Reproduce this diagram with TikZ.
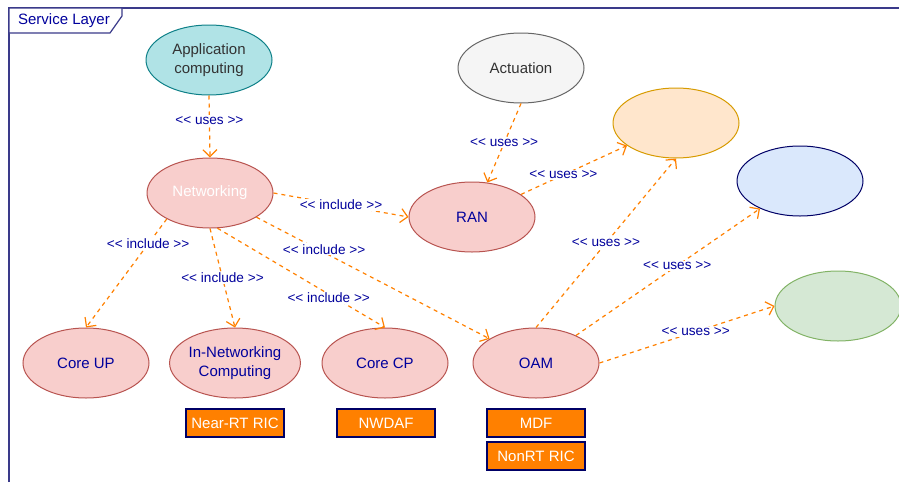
\documentclass[tikz,border=0pt]{standalone}
\usepackage{fontspec}
\setmainfont{Liberation Sans}
\usetikzlibrary{shapes.geometric,arrows.meta}
\definecolor{appfill}{HTML}{B0E3E6}\definecolor{appdraw}{HTML}{0E8088}
\definecolor{actfill}{HTML}{F5F5F5}\definecolor{actdraw}{HTML}{666666}
\definecolor{pinkfill}{HTML}{F8CECC}\definecolor{pinkdraw}{HTML}{B85450}
\definecolor{orfill}{HTML}{FFE6CC}\definecolor{ordraw}{HTML}{D79B00}
\definecolor{blfill}{HTML}{DAE8FC}\definecolor{bldraw}{HTML}{000066}
\definecolor{grfill}{HTML}{D5E8D4}\definecolor{grdraw}{HTML}{82B366}
\definecolor{edgeor}{HTML}{FF8000}
\definecolor{navytext}{HTML}{00009C}
\definecolor{framec}{HTML}{3A3A8A}
\definecolor{greytext}{HTML}{333333}
\newcommand\myll{<\kern0pt<}
\newcommand\mygg{>\kern0pt>}
\tikzset{
  uc/.style={ellipse, minimum width=126pt, minimum height=70pt, inner sep=0pt, line width=1pt, align=center, font=\fontsize{15}{19.5}\selectfont},
  pinkuc/.style={uc, fill=pinkfill, draw=pinkdraw, text=navytext},
  tagbox/.style={rectangle, minimum width=98pt, minimum height=28pt, inner sep=0pt, fill=edgeor, draw=bldraw, line width=1.2pt, text=white, font=\fontsize{15}{17}\selectfont},
  rel/.style={draw=edgeor, line width=1.2pt, dash pattern=on 4pt off 4pt, -{Straight Barb[length=7pt,width=14pt,line width=1.2pt]}},
  lbl/.style={fill=white, inner sep=1pt, text=navytext, font=\fontsize{13.6}{15}\selectfont}
}
\begin{document}
\begin{tikzpicture}[x=1pt,y=-1pt]
\useasboundingbox (0,0) rectangle (899,482);
% frame
\draw[framec, line width=1.5pt] (9,482) -- (9,8) -- (899,8);
\draw[framec, line width=1.2pt, fill=white] (9,8) -- (122,8) -- (122,16) -- (110,33) -- (9,33) -- cycle;
\node[text=navytext, font=\fontsize{15}{17}\selectfont, anchor=center] (title) at (64,20.5) {Service Layer};
% use cases
\node[uc, fill=appfill, draw=appdraw, text=greytext] (app) at (209,60) {Application\\computing};
\node[uc, fill=actfill, draw=actdraw, text=greytext] (act) at (521,68) {Actuation};
\node[pinkuc, text=white] (net) at (210,193) {Networking};
\node[pinkuc] (ran) at (472,217) {RAN};
\node[uc, fill=orfill, draw=ordraw] (orange) at (676,123) {};
\node[uc, fill=blfill, draw=bldraw] (blue) at (800,181) {};
\node[uc, fill=grfill, draw=grdraw] (green) at (838,306) {};
\node[pinkuc] (coreup) at (86,363) {Core UP};
\node[pinkuc] (innet) at (235,363) {In-Networking\\Computing};
\node[pinkuc] (corecp) at (385,363) {Core CP};
\node[pinkuc] (oam) at (536,363) {OAM};
% tags
\node[tagbox] (nrt) at (235,423) {Near-RT RIC};
\node[tagbox] (nwdaf) at (386,423) {NWDAF};
\node[tagbox] (mdf) at (536,423) {MDF};
\node[tagbox] (nonrt) at (536,456) {NonRT RIC};
% relations
\draw[rel] (app.south) -- node[lbl, pos=0.4] {\myll{} uses \mygg} (net.north);
\draw[rel] (act.south) -- node[lbl, pos=0.5] {\myll{} uses \mygg} (ran.66);
\draw[rel] (ran) -- node[lbl, pos=0.4] {\myll{} uses \mygg} (orange);
\draw[rel] (net.east) -- node[lbl, pos=0.5] {\myll{} include \mygg} (ran.west);
\draw[rel] (net.-149) -- node[lbl, pos=0.23] {\myll{} include \mygg} (coreup.north);
\draw[rel] (net.south) -- node[lbl, pos=0.5] {\myll{} include \mygg} (innet.north);
\draw[rel] (net.-78) -- node[lbl, pos=0.7, xshift=-6pt] {\myll{} include \mygg} (corecp.north);
\draw[rel] (net) -- node[lbl, pos=0.29, yshift=3pt] {\myll{} include \mygg} (oam);
\draw[rel] (oam.north) -- node[lbl, pos=0.5] {\myll{} uses \mygg} (orange.south);
\draw[rel] (oam) -- node[lbl, pos=0.55] {\myll{} uses \mygg} (blue);
\draw[rel] (oam.east) -- node[lbl, pos=0.55] {\myll{} uses \mygg} (green.west);
\end{tikzpicture}
\end{document}
